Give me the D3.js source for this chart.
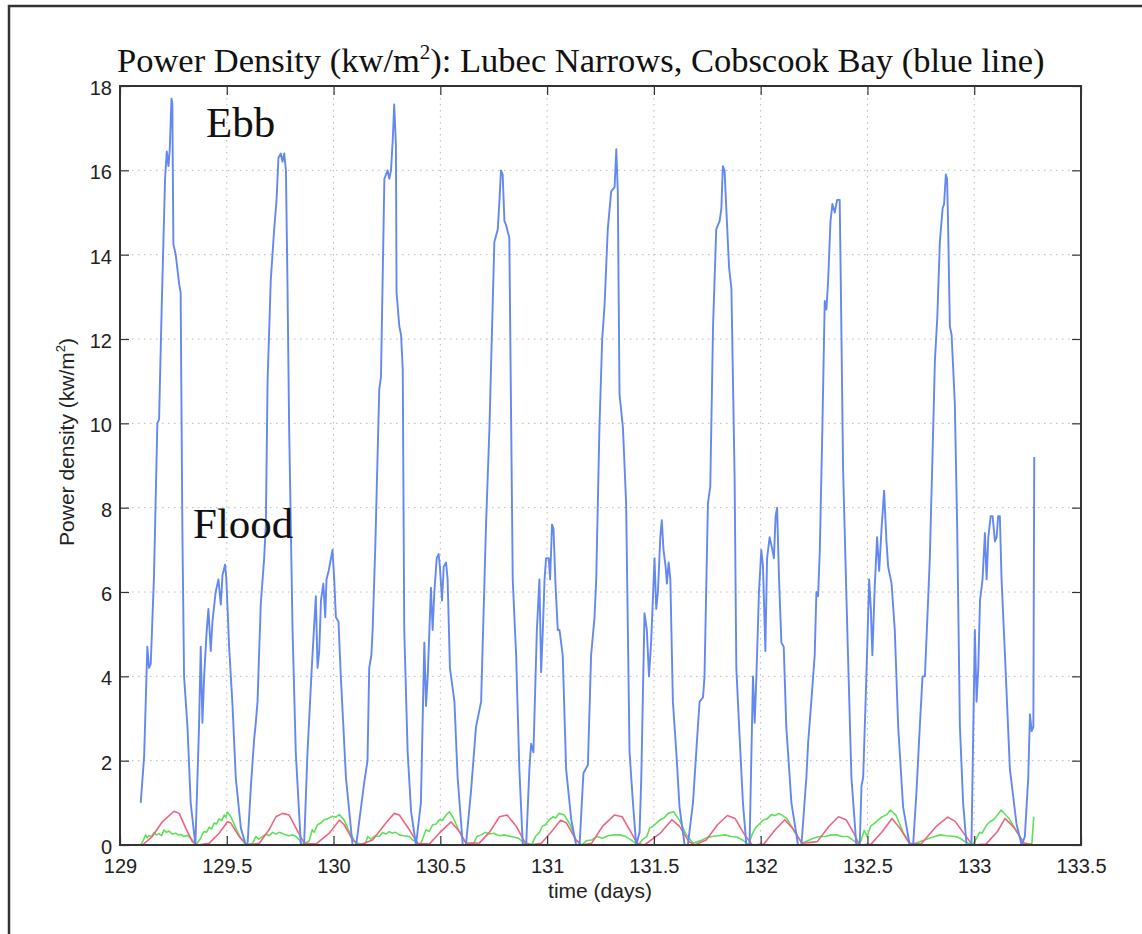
<!DOCTYPE html>
<html><head><meta charset="utf-8">
<script src="https://cdn.jsdelivr.net/npm/d3@7"></script>
<style>html,body{margin:0;padding:0;background:#fff;overflow:hidden} svg{display:block}</style>
</head><body>
<script>
// ---- data ----
const xTicks = [129, 129.5, 130, 130.5, 131, 131.5, 132, 132.5, 133, 133.5];
const xTickLabels = ["129", "129.5", "130", "130.5", "131", "131.5", "132", "132.5", "133", "133.5"];
const yTicks = [0, 2, 4, 6, 8, 10, 12, 14, 16, 18];
const yTickLabels = ["0", "2", "4", "6", "8", "10", "12", "14", "16", "18"];

const blueTime = [
 129.097,129.113,129.128,129.136,129.144,129.159,129.175,129.183,129.195,129.211,129.219,129.227,129.233,129.241,129.245,129.250,129.261,129.277,129.284,129.292,129.300,129.316,129.331,129.353,
 129.370,129.378,129.386,129.394,129.405,129.414,129.425,129.433,129.448,129.461,129.472,129.480,129.492,129.498,129.511,129.527,129.542,129.566,129.589,
 129.597,129.613,129.628,129.636,129.644,129.659,129.675,129.683,129.691,129.706,129.722,129.733,129.742,129.753,129.761,129.769,129.777,129.784,129.792,129.808,129.823,129.847,
 129.862,129.878,129.898,129.917,129.925,129.933,129.941,129.952,129.961,129.967,129.977,129.988,129.995,130.003,130.011,130.023,130.034,130.058,130.089,
 130.106,130.144,130.159,130.167,130.177,130.183,130.195,130.205,130.214,130.222,130.238,130.253,130.261,130.269,130.277,130.284,130.292,130.295,130.308,130.316,130.324,130.331,130.347,130.363,130.386,
 130.409,130.425,130.433,130.441,130.456,130.464,130.472,130.483,130.492,130.498,130.508,130.516,130.527,130.534,130.545,130.566,130.581,130.605,
 130.620,130.644,130.667,130.683,130.691,130.714,130.730,130.745,130.753,130.769,130.777,130.784,130.792,130.800,130.808,130.823,130.839,130.855,130.870,130.886,
 130.902,130.917,130.925,130.936,130.952,130.964,130.972,130.980,130.988,130.995,131.008,131.014,131.023,131.030,131.039,131.050,131.058,131.073,131.089,131.113,131.136,
 131.152,131.170,131.191,131.206,131.222,131.230,131.245,131.258,131.269,131.284,131.300,131.316,131.324,131.331,131.339,131.355,131.370,131.386,131.402,131.417,
 131.433,131.441,131.456,131.467,131.477,131.487,131.495,131.503,131.511,131.519,131.530,131.537,131.545,131.555,131.561,131.569,131.577,131.589,131.605,131.620,131.644,
 131.659,131.683,131.706,131.714,131.730,131.737,131.753,131.764,131.777,131.792,131.808,131.816,131.823,131.831,131.839,131.852,131.863,131.878,131.886,131.902,131.917,131.933,
 131.948,131.964,131.972,131.980,131.992,132.003,132.011,132.022,132.030,132.042,132.055,132.062,132.070,132.077,132.086,132.097,132.108,132.120,132.144,132.175,
 132.191,132.214,132.222,132.237,132.253,132.261,132.269,132.277,132.289,132.300,132.308,132.316,132.327,132.336,132.347,132.358,132.370,132.375,132.386,132.402,132.409,132.425,132.448,
 132.464,132.472,132.480,132.495,132.508,132.516,132.523,132.534,132.545,132.555,132.566,132.578,132.589,132.597,132.613,132.628,132.644,132.667,132.698,
 132.714,132.730,132.745,132.758,132.769,132.784,132.792,132.805,132.816,132.827,132.839,132.852,132.859,132.867,132.873,132.878,132.886,132.894,132.909,132.920,132.933,132.948,132.964,
 132.987,133.003,133.011,133.019,133.027,133.039,133.050,133.058,133.066,133.077,133.086,133.097,133.105,133.112,133.120,133.128,133.144,133.167,133.198,133.222,
 133.237,133.253,133.261,133.269,133.277,133.281
];
const bluePower = [
 1.0,2.1,4.7,4.2,4.3,6.35,10.0,10.1,12.7,15.8,16.45,16.1,16.5,17.7,17.6,14.25,14.0,13.3,13.1,7.5,4.0,2.8,1.0,0,
 2.8,4.7,2.9,4.0,5.0,5.6,4.6,5.3,6.0,6.3,5.7,6.4,6.65,6.3,4.7,3.3,1.6,0.4,0,
 0,1.4,2.5,2.9,3.4,5.7,6.8,7.6,11.0,13.4,14.6,15.3,16.3,16.4,16.2,16.4,16.0,13.4,9.9,5.1,2.2,0,
 0,2.2,4.2,5.9,4.2,4.6,5.8,6.2,5.4,6.3,6.5,6.8,7.0,6.3,5.4,5.3,4.0,1.6,0,
 0,1.5,2.0,4.2,4.5,5.1,7.0,9.0,10.8,11.1,15.8,16.0,15.8,16.0,16.7,17.56,16.6,13.1,12.3,12.1,11.3,5.1,2.2,0.8,0,
 1.0,4.8,3.3,4.0,6.1,5.1,6.0,6.8,6.9,6.6,5.8,6.6,6.7,6.3,4.2,3.4,1.6,0,
 0,1.3,2.8,3.2,3.4,7.6,9.9,12.8,14.3,14.6,15.3,16.0,15.9,14.8,14.7,14.4,6.3,4.5,1.8,0,
 0,1.8,2.4,2.2,5.1,6.3,4.1,5.1,6.3,6.8,6.8,6.3,7.6,7.5,6.2,5.1,5.1,4.5,1.8,0.6,0,
 0,1.7,1.9,4.5,5.4,6.3,9.9,12.0,12.8,14.6,15.5,15.6,16.5,15.5,10.7,9.9,8.1,2.2,1.0,0,
 0.3,1.6,5.5,5.1,4.0,4.8,5.8,6.8,5.6,6.0,7.3,7.7,7.0,6.6,6.2,6.7,6.3,3.4,2.2,0.9,0,
 0,1.0,2.8,3.4,3.5,4.0,8.1,8.5,12.3,14.6,14.8,15.1,16.1,16.0,15.1,13.7,13.2,8.7,4.2,2.5,1.0,0,
 0,4.0,2.9,4.0,6.0,7.0,6.6,4.6,6.8,7.3,7.0,6.8,7.8,8.0,6.3,4.8,4.7,2.8,1.0,0,
 0,1.6,2.4,3.4,4.5,6.0,5.9,7.0,9.9,12.9,12.7,13.4,14.8,15.2,15.0,15.3,15.3,13.4,8.9,5.8,4.5,1.6,0,
 0,1.4,1.6,4.0,6.3,5.6,4.5,6.1,7.3,6.5,7.5,8.4,7.2,6.6,6.2,5.1,2.8,0.9,0,
 0,1.3,2.8,4.0,4.0,5.8,6.8,9.3,11.5,12.5,14.3,15.1,15.2,15.9,15.8,14.6,12.3,12.1,10.5,7.6,2.8,1.0,0,
 0,5.1,3.4,4.2,5.8,6.3,7.4,6.3,7.3,7.8,7.8,7.2,7.3,7.8,7.8,6.3,4.5,1.8,0.5,0,
 0.2,1.6,3.1,2.7,2.8,9.2
];

const redTime = [
 129.105,129.151,129.198,129.253,129.277,129.308,129.339,129.362,129.417,129.464,129.503,129.519,129.558,129.597,
 129.652,129.698,129.730,129.761,129.792,129.824,129.863,129.917,129.980,130.027,130.050,130.089,130.120,
 130.183,130.245,130.284,130.308,130.355,130.394,130.448,130.495,130.550,130.589,130.620,
 130.683,130.730,130.777,130.813,130.856,130.894,130.917,130.973,131.028,131.063,131.091,131.135,131.161,
 131.208,131.259,131.315,131.351,131.395,131.422,131.456,131.530,131.584,131.620,131.664,131.691,
 131.745,131.798,131.844,131.880,131.925,131.961,132.014,132.068,132.113,132.149,132.194,
 132.265,132.319,132.364,132.400,132.436,132.463,132.517,132.570,132.615,132.652,132.696,
 132.750,132.822,132.876,132.911,132.956,132.992,133.055,133.109,133.144,133.189,133.234,133.279
];
const redPower = [
 0,0.2,0.55,0.8,0.75,0.4,0.08,0,0.04,0.28,0.55,0.52,0.2,0,
 0.04,0.36,0.67,0.75,0.71,0.4,0.04,0.02,0.28,0.59,0.48,0.12,0,
 0.12,0.52,0.75,0.71,0.36,0.04,0.02,0.28,0.55,0.32,0.04,
 0.05,0.3,0.67,0.71,0.44,0.08,0,0.04,0.36,0.59,0.52,0.12,0,
 0.04,0.44,0.71,0.67,0.28,0.04,0,0.28,0.6,0.44,0.08,0,
 0.12,0.48,0.7,0.63,0.24,0,0.02,0.36,0.6,0.4,0.04,
 0.08,0.44,0.67,0.6,0.28,0,0.02,0.32,0.63,0.4,0.04,
 0.02,0.44,0.66,0.56,0.24,0,0.02,0.32,0.63,0.4,0.04,0
];

const greenTime = [
 129.097,129.108,129.120,129.128,129.136,129.148,129.159,129.170,129.183,129.195,129.206,129.218,129.230,129.245,129.261,129.273,129.285,129.300,129.315,129.330,129.339,129.355,
 129.378,129.386,129.394,129.405,129.417,129.429,129.441,129.452,129.464,129.476,129.488,129.496,129.503,129.519,129.530,129.542,129.566,129.589,
 129.620,129.636,129.650,129.667,129.683,129.698,129.714,129.730,129.745,129.761,129.776,129.792,129.808,129.824,129.840,129.855,
 129.886,129.900,129.909,129.925,129.940,129.956,129.970,129.995,130.010,130.027,130.050,130.073,130.105,
 130.148,130.160,130.175,130.195,130.214,130.230,130.245,130.260,130.275,130.290,130.308,130.330,130.355,130.370,130.386,130.406,
 130.433,130.448,130.464,130.480,130.495,130.510,130.527,130.542,130.558,130.589,130.620,
 130.655,130.672,130.691,130.710,130.730,130.750,130.777,130.800,130.830,130.850,130.866,130.894,
 130.929,130.945,130.964,130.978,130.992,131.010,131.028,131.040,131.055,131.081,131.108,131.135,131.161,
 131.185,131.208,131.235,131.259,131.285,131.315,131.340,131.369,131.405,131.426,
 131.445,131.467,131.480,131.494,131.512,131.530,131.548,131.566,131.592,131.620,131.647,131.683,
 131.705,131.727,131.750,131.772,131.800,131.835,131.860,131.889,131.915,131.943,
 131.960,131.975,131.990,132.014,132.030,132.050,132.068,132.086,132.122,132.158,132.194,
 132.220,132.248,132.275,132.301,132.330,132.355,132.380,132.409,132.430,132.454,
 132.470,132.485,132.499,132.515,132.534,132.552,132.570,132.590,132.607,132.633,132.669,132.705,
 132.735,132.768,132.800,132.839,132.870,132.911,132.935,132.956,132.992,
 133.010,133.025,133.037,133.055,133.073,133.090,133.109,133.126,133.163,133.198,133.234,133.270,133.275,133.279
];
const greenPower = [
 0,0.1,0.24,0.17,0.22,0.2,0.3,0.24,0.27,0.22,0.36,0.3,0.33,0.26,0.28,0.24,0.25,0.2,0.23,0.16,0.12,0,
 0.16,0.26,0.32,0.3,0.42,0.38,0.52,0.5,0.62,0.58,0.71,0.66,0.78,0.67,0.55,0.4,0.16,0,
 0.04,0.2,0.14,0.2,0.26,0.22,0.3,0.26,0.3,0.27,0.24,0.22,0.24,0.2,0.12,0,
 0.1,0.36,0.3,0.48,0.52,0.6,0.62,0.68,0.66,0.72,0.59,0.32,0.04,
 0.02,0.2,0.14,0.22,0.2,0.3,0.26,0.32,0.28,0.3,0.24,0.22,0.2,0.12,0.08,0,
 0.36,0.32,0.48,0.5,0.6,0.58,0.71,0.79,0.67,0.32,0.04,
 0.03,0.2,0.24,0.3,0.26,0.28,0.22,0.24,0.2,0.18,0.16,0.04,
 0.02,0.2,0.3,0.45,0.48,0.6,0.67,0.64,0.75,0.71,0.48,0.12,0,
 0.1,0.12,0.2,0.16,0.22,0.24,0.24,0.2,0.08,0,
 0.12,0.2,0.4,0.44,0.52,0.6,0.64,0.75,0.79,0.59,0.28,0.04,
 0.08,0.12,0.18,0.2,0.22,0.24,0.2,0.19,0.12,0,
 0.25,0.4,0.48,0.6,0.62,0.72,0.7,0.75,0.63,0.32,0.04,
 0.1,0.16,0.2,0.2,0.24,0.24,0.2,0.2,0.12,0.04,
 0.1,0.35,0.2,0.45,0.52,0.6,0.67,0.72,0.83,0.71,0.28,0,
 0.06,0.12,0.18,0.24,0.22,0.2,0.16,0.08,0,
 0.15,0.3,0.28,0.45,0.55,0.6,0.71,0.83,0.63,0.32,0.04,0.02,0.4,0.67
];

// ---- layout ----
const W = 1142, H = 934;
const plot = {left: 120, right: 1081, top: 86, bottom: 845};

const svg = d3.select("body").append("svg").attr("width", W).attr("height", H);

// outer frame (extends past the right/bottom edges)
svg.append("rect").attr("x", 9).attr("y", 6).attr("width", W + 20).attr("height", H + 20)
  .attr("fill", "#fff").attr("stroke", "#333").attr("stroke-width", 2.5);

const x = d3.scaleLinear().domain([129, 133.5]).range([plot.left, plot.right]);
const y = d3.scaleLinear().domain([0, 18]).range([plot.bottom, plot.top]);

// grid
const grid = svg.append("g");
grid.selectAll(".gx").data(xTicks.slice(1, -1)).enter().append("line")
  .attr("x1", d => x(d)).attr("x2", d => x(d)).attr("y1", plot.top).attr("y2", plot.bottom)
  .attr("stroke", "#b8b8b8").attr("stroke-width", 1).attr("stroke-dasharray", "1.5,4.5");
grid.selectAll(".gy").data(yTicks.slice(1, -1)).enter().append("line")
  .attr("y1", d => y(d)).attr("y2", d => y(d)).attr("x1", plot.left).attr("x2", plot.right)
  .attr("stroke", "#b8b8b8").attr("stroke-width", 1).attr("stroke-dasharray", "1.5,4.5");

// lines
const mk = (t, v) => t.map((d, i) => [d, v[i]]);
const line = d3.line().x(d => x(d[0])).y(d => y(d[1]));
svg.append("path").datum(mk(greenTime, greenPower)).attr("d", line)
  .attr("fill", "none").attr("stroke", "#5fe05a").attr("stroke-width", 1.6).attr("stroke-linejoin", "round");
svg.append("path").datum(mk(redTime, redPower)).attr("d", line)
  .attr("fill", "none").attr("stroke", "#f06482").attr("stroke-width", 1.6).attr("stroke-linejoin", "round");
svg.append("path").datum(mk(blueTime, bluePower)).attr("d", line)
  .attr("fill", "none").attr("stroke", "#6388f2").attr("stroke-width", 1.9).attr("stroke-linejoin", "round");

// axes (ticks inward on all four sides)
const tickLen = 9;
const axB = d3.axisBottom(x).tickValues(xTicks).tickSize(-tickLen).tickFormat((d, i) => xTickLabels[i]).tickPadding(14);
const axT = d3.axisTop(x).tickValues(xTicks).tickSize(-tickLen).tickFormat("");
const axL = d3.axisLeft(y).tickValues(yTicks).tickSize(-tickLen).tickFormat((d, i) => yTickLabels[i]).tickPadding(8);
const axR = d3.axisRight(y).tickValues(yTicks).tickSize(-tickLen).tickFormat("");

function style(g) {
  g.select(".domain").remove();
  g.selectAll(".tick line").attr("stroke", "#333").attr("stroke-width", 1.2);
  g.selectAll(".tick text").attr("fill", "#222").style("font-family", "'Liberation Sans', Arial, sans-serif").style("font-size", "20px");
}
svg.append("g").attr("transform", `translate(0,${plot.bottom})`).call(axB).call(style);
svg.append("g").attr("transform", `translate(0,${plot.top})`).call(axT).call(style);
svg.append("g").attr("transform", `translate(${plot.left},0)`).call(axL).call(style)
  .selectAll(".tick text").attr("dy", "0.42em");
svg.append("g").attr("transform", `translate(${plot.right},0)`).call(axR).call(style);

// axes box
svg.append("rect").attr("x", plot.left).attr("y", plot.top)
  .attr("width", plot.right - plot.left).attr("height", plot.bottom - plot.top)
  .attr("fill", "none").attr("stroke", "#333").attr("stroke-width", 2);

// title
const title = svg.append("text").attr("x", 117).attr("y", 72)
  .style("font-family", "'Liberation Serif', 'Times New Roman', serif").style("font-size", "34.5px").attr("fill", "#111");
title.append("tspan").text("Power Density (kw/m");
title.append("tspan").text("2").style("font-size", "21px").attr("dy", -13);
title.append("tspan").text("): Lubec Narrows, Cobscook Bay (blue line)").attr("dy", 13);

// annotations
svg.append("text").attr("x", 206).attr("y", 137).text("Ebb")
  .style("font-family", "'Liberation Serif', serif").style("font-size", "43px").attr("fill", "#111");
svg.append("text").attr("x", 193).attr("y", 538).text("Flood")
  .style("font-family", "'Liberation Serif', serif").style("font-size", "43px").attr("fill", "#111");

// axis labels
svg.append("text").attr("x", 600).attr("y", 898).attr("text-anchor", "middle").text("time (days)")
  .style("font-family", "'Liberation Sans', Arial, sans-serif").style("font-size", "21px").attr("fill", "#222");
const yl = svg.append("text").attr("transform", "translate(74,442) rotate(-90)").attr("text-anchor", "middle")
  .style("font-family", "'Liberation Sans', Arial, sans-serif").style("font-size", "21px").attr("fill", "#222");
yl.append("tspan").text("Power density (kw/m");
yl.append("tspan").text("2").style("font-size", "13px").attr("dy", -9);
yl.append("tspan").text(")").attr("dy", 9);
</script>
</body></html>
